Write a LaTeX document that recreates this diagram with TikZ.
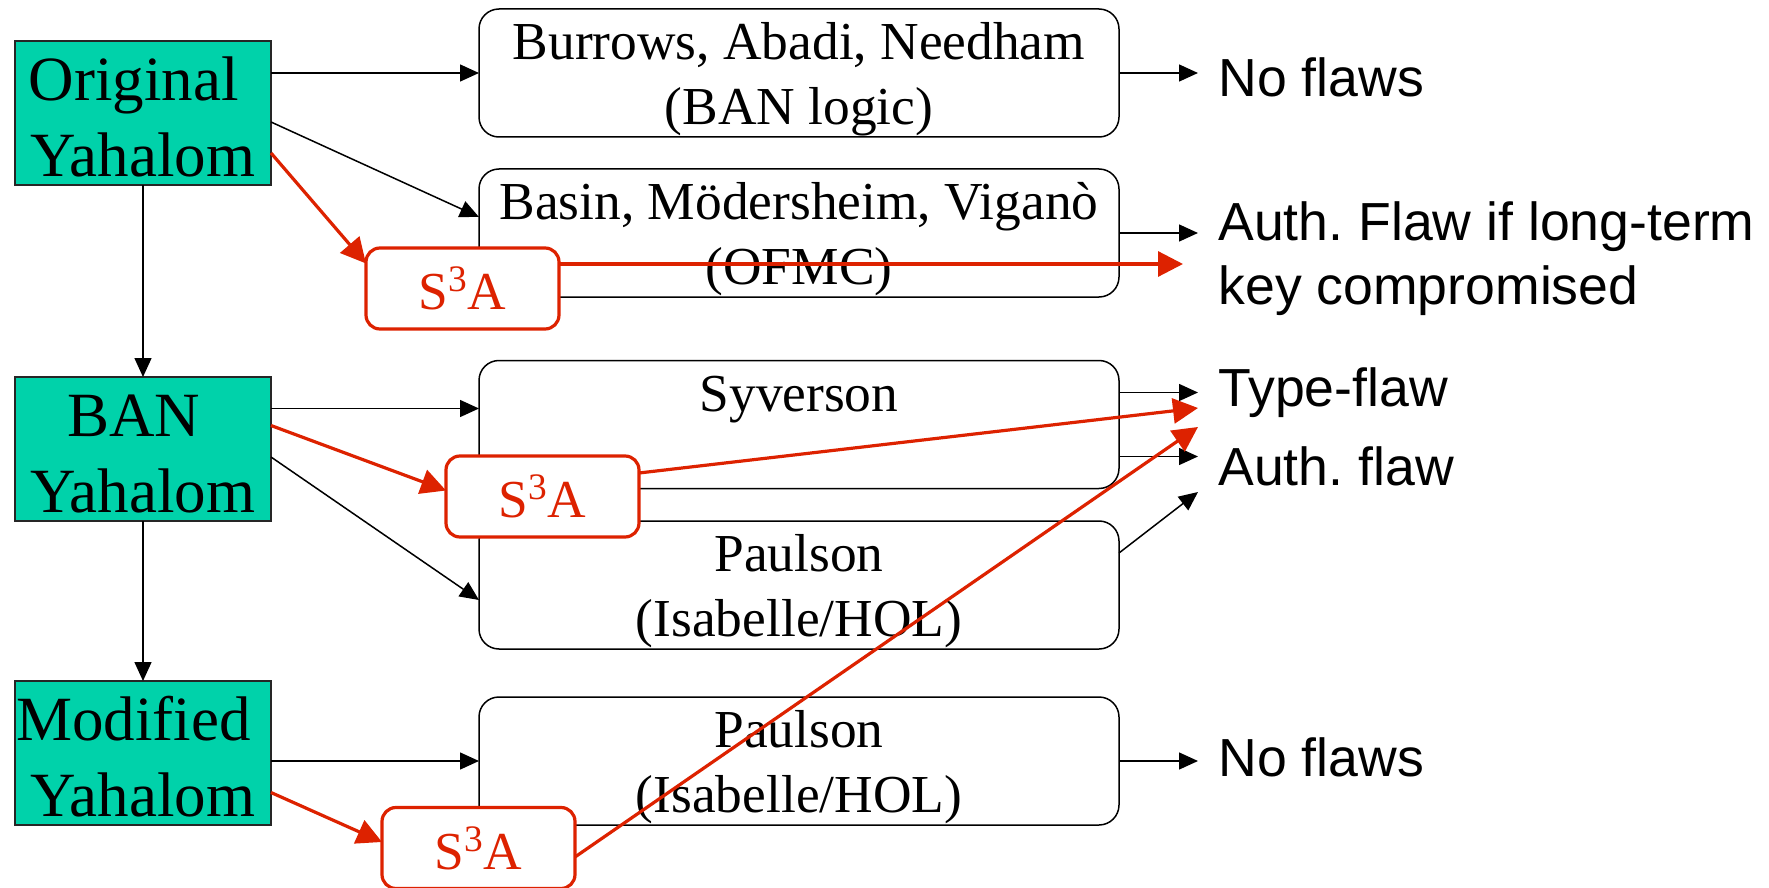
\documentclass[tikz,border=0pt]{standalone}
\usepackage{fontspec}
\setmainfont{Liberation Serif}
\newfontfamily\labelsans{Liberation Sans}
\usetikzlibrary{arrows.meta,calc}
\definecolor{yteal}{RGB}{0,210,170}
\definecolor{sred}{RGB}{221,34,0}
\newcommand\studystrut{\rule{0pt}{25pt}}
\newcommand\protostrut{\rule{0pt}{25.7pt}}
\begin{document}
\begin{tikzpicture}[x=0.5pt,y=-0.5pt,
  proto/.style={draw=black!85, line width=0.8pt, fill=yteal, minimum width=128pt, minimum height=72pt,
    inner sep=0pt, outer sep=0pt, align=center, font=\fontsize{31.5}{38}\selectfont},
  study/.style={draw=black, line width=0.75pt, fill=white, rounded corners=10pt, minimum width=320pt,
    minimum height=64pt, inner sep=0pt, outer sep=0pt, align=center, font=\fontsize{26.7}{32.5}\selectfont},
  sss/.style={draw=sred, line width=1.6pt, fill=white, rounded corners=7pt, minimum width=96.5pt,
    minimum height=40.5pt, inner sep=0pt, outer sep=0pt, text=sred, font=\fontsize{26.7}{32.5}\selectfont},
  verdict/.style={inner sep=0pt, anchor=base west, font=\labelsans\fontsize{26.8}{32}\selectfont\frenchspacing, align=left},
  blk/.style={line width=0.75pt, -{Triangle[length=9.5pt,width=8.5pt]}},
  redarr/.style={draw=sred, line width=1.6pt, -{Triangle[length=12.5pt,width=12.5pt]}},
]
\useasboundingbox (0,0) rectangle (1769,888);

% protocol boxes
\node[proto] (orig) at (143,113) {\protostrut Original\kern0.3em\\Yahalom};
\node[proto] (ban) at (143,449) {\protostrut BAN\kern0.3em\\Yahalom};
\node[proto] (mod) at (143,753) {\protostrut Modified\kern0.3em\\Yahalom};

% analysis boxes
\node[study] (burrows) at (799,73) {\studystrut Burrows, Abadi, Needham\\(BAN logic)};
\node[study] (basin) at (799,233) {\studystrut Basin, Mödersheim, Viganò\\(OFMC)};
\node[study] (syverson) at (799,424.5) {\studystrut Syverson\\\phantom{(Isabelle/HOL)}};
\node[study] (paulsonA) at (799,585) {\studystrut Paulson\\(Isabelle/HOL)};
\node[study] (paulsonB) at (799,761) {\studystrut Paulson\\(Isabelle/HOL)};

% verdicts
\node[verdict] (nf1) at (1218,97) {No flaws};
\node[verdict] (auth) at (1218,304) {Auth. Flaw if long-term\\key compromised};
\node[verdict] (type) at (1218,406) {Type-flaw};
\node[verdict] (aflaw) at (1218,485) {Auth. flaw};
\node[verdict] (nf2) at (1218,776) {No flaws};

\coordinate (tip) at (1198,0);

% black connectors
\draw[blk] (orig.east |- burrows.west) -- (burrows.west);
\draw[blk] ($(orig.east)+(0,9)$) -- ($(basin.west)+(0,-16)$);
\draw[blk] (orig.south) -- (ban.north);
\coordinate (sv1) at ($(syverson.west)+(0,-16)$);
\draw[blk] (ban.east |- sv1) -- (sv1);
\draw[blk] ($(ban.east)+(0,8)$) -- ($(paulsonA.west)+(0,15)$);
\draw[blk] (ban.south) -- (mod.north);
\draw[blk] (mod.east |- paulsonB.west) -- (paulsonB.west);

\draw[blk] (burrows.east) -- (burrows.east -| tip);
\draw[blk] (basin.east) -- (basin.east -| tip);
\coordinate (sy1) at ($(syverson.east)+(0,-32)$);
\coordinate (sy2) at ($(syverson.east)+(0,32)$);
\draw[blk] (sy1) -- (sy1 -| tip);
\draw[blk] (sy2) -- (sy2 -| tip);
\coordinate (pa1) at ($(paulsonA.east)+(0,-32)$);
\coordinate (pa1end) at (1198,492);
\draw[blk] (pa1) -- (pa1end);
\draw[blk] (paulsonB.east) -- (paulsonB.east -| tip);

% S3A boxes
\node[sss] (s1) at (462.5,288.5) {S\textsuperscript{3}A};
\node[sss] (s2) at (542.5,496.5) {S\textsuperscript{3}A};
\node[sss] (s3) at (478.5,848) {S\textsuperscript{3}A};

% red connectors
\coordinate (r1end) at (1183,264);
\coordinate (r2end) at (1198,408);
\coordinate (r3end) at (1198,427);
\draw[redarr] ($(orig.east)+(0,40)$) -- ($(s1.west)+(0,-25)$);
\draw[redarr] ($(s1.east)+(0,-24.5)$) -- (r1end);
\draw[redarr] ($(ban.east)+(0,-23.5)$) -- ($(s2.west)+(0,-6)$);
\draw[redarr] ($(s2.east)+(0,-23.5)$) -- (r2end);
\draw[redarr] ($(mod.east)+(0,39.5)$) -- ($(s3.west)+(0,-6)$);
\draw[redarr] ($(s3.east)+(0,9)$) -- (r3end);
\end{tikzpicture}
\end{document}
